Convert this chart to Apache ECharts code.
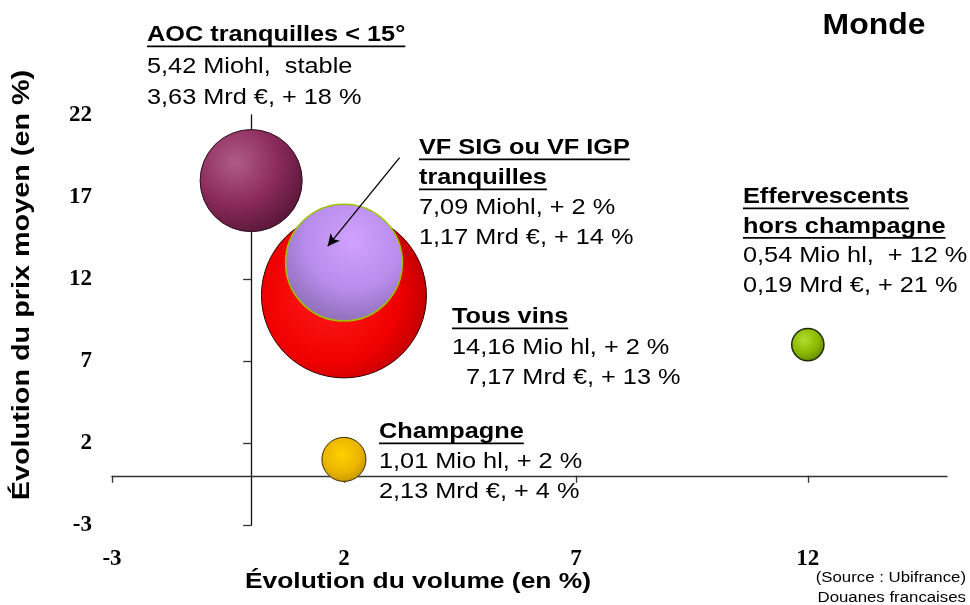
<!DOCTYPE html>
<html>
<head>
<meta charset="utf-8">
<script src="https://cdn.jsdelivr.net/npm/echarts@6/dist/echarts.min.js"></script>
<style>
  html, body { margin: 0; background: #fff; }
  #chart { width: 970px; height: 605px; }
</style>
</head>
<body>
<div id="chart"></div>
<script>
// categories and values
const categories = ['AOC tranquilles < 15°', 'Tous vins', 'VF SIG ou VF IGP tranquilles', 'Champagne', 'Effervescents hors champagne']
const volumeChange = [0, 2, 2, 2, 12]       // x, %
const priceChange = [18, 11, 13, 1, 8]      // y, %
const volumeMiohl = [5.42, 14.16, 7.09, 1.01, 0.54] // bubble area
const xTickLabels = [-3, 2, 7, 12]
const yTickLabels = [-3, 2, 7, 12, 17, 22]
const arrowFrom = [3.2, 19.4]
const arrowTo = [1.65, 14]

// annotation texts (title lines underlined)
const noteTitles = [
  ['AOC tranquilles < 15°'],
  ['Tous vins'],
  ['VF SIG ou VF IGP', 'tranquilles'],
  ['Champagne'],
  ['Effervescents', 'hors champagne']
]
const noteLines = [
  ['5,42 Miohl,  stable', '3,63 Mrd €, + 18 %'],
  ['14,16 Mio hl, + 2 %', '  7,17 Mrd €, + 13 %'],
  ['7,09 Miohl, + 2 %', '1,17 Mrd €, + 14 %'],
  ['1,01 Mio hl, + 2 %', '2,13 Mrd €, + 4 %'],
  ['0,54 Mio hl,  + 12 %', '0,19 Mrd €, + 21 %']
]

// layout / style
const notePos = [[147, 35, 31.5], [452, 317, 30.5], [419, 148, 30], [379, 432, 30], [743, 197, 29.5]]
const bubbleStyles = [
  { stops: ['#b05c88', '#8a2a5b', '#561636'], at: [0.35, 0.32], border: '#2a1020', bw: 1 },
  { stops: ['#ff1c1c', '#f00000', '#940000'], at: [0.42, 0.5], border: '#330000', bw: 1 },
  { stops: ['#d2a2ff', '#b78ceb', '#8a68b0'], at: [0.58, 0.32], border: '#9cc400', bw: 1.5 },
  { stops: ['#ffd200', '#eab400', '#a98300'], at: [0.45, 0.4], border: '#3a2c00', bw: 1 },
  { stops: ['#b2dc30', '#8ab800', '#587800'], at: [0.4, 0.35], border: '#1e2a00', bw: 1.5 }
]
const sizeScale = 43.85
const textScale = 1.15
const noteFont = 22
const sans = '"Liberation Sans", Arial, sans-serif'
const serif = '"Liberation Serif", "Times New Roman", serif'

const measureCtx = document.createElement('canvas').getContext('2d')
function textWidth(str, font) {
  measureCtx.font = font
  return measureCtx.measureText(str).width
}

function noteGroup(i) {
  const [x, y, lh] = notePos[i]
  const bold = 'bold ' + noteFont + 'px ' + sans
  const children = []
  let row = 0
  noteTitles[i].forEach(t => {
    children.push({
      type: 'text', x: 0, y: row * lh,
      style: { text: t, font: bold, fill: '#000', verticalAlign: 'middle' }
    })
    children.push({
      type: 'rect',
      shape: { x: 0, y: row * lh + 10.5, width: textWidth(t, bold), height: 1.8 },
      style: { fill: '#000' }
    })
    row++
  })
  noteLines[i].forEach(t => {
    children.push({
      type: 'text', x: 0, y: row * lh,
      style: { text: t, font: noteFont + 'px ' + sans, fill: '#000', verticalAlign: 'middle', whiteSpace: 'pre' }
    })
    row++
  })
  return { type: 'group', x: x, y: y, scaleX: textScale, children: children }
}

const bubbleData = categories.map((name, i) => {
  const s = bubbleStyles[i]
  return {
    name: name,
    value: [volumeChange[i], priceChange[i], volumeMiohl[i]],
    itemStyle: {
      color: new echarts.graphic.RadialGradient(s.at[0], s.at[1], 0.75, [
        { offset: 0, color: s.stops[0] },
        { offset: 0.55, color: s.stops[1] },
        { offset: 1, color: s.stops[2] }
      ]),
      borderColor: s.border,
      borderWidth: s.bw,
      opacity: 1
    }
  }
})

const chart = echarts.init(document.getElementById('chart'))
chart.setOption({
  animation: false,
  backgroundColor: '#fff',
  grid: { left: 112, right: 23, top: 115, bottom: 80, containLabel: false, outerBoundsMode: 'none' },
  xAxis: {
    type: 'value',
    min: -3,
    max: 15,
    splitLine: { show: false },
    axisLine: { onZero: true, lineStyle: { color: '#333', width: 1.3 } },
    axisTick: { show: true, customValues: xTickLabels, length: 7, lineStyle: { color: '#333', width: 1.3 } },
    axisLabel: {
      customValues: xTickLabels,
      margin: 23,
      color: '#000',
      fontFamily: serif,
      fontWeight: 'bold',
      fontSize: 23
    }
  },
  yAxis: {
    type: 'value',
    min: -3,
    max: 22,
    splitLine: { show: false },
    axisLine: { onZero: true, lineStyle: { color: '#111', width: 1.3 } },
    axisTick: { show: true, customValues: [-3, 2, 7, 12, 17], length: 8, lineStyle: { color: '#333', width: 1.3 } },
    axisLabel: {
      customValues: yTickLabels,
      margin: 20,
      color: '#000',
      fontFamily: serif,
      fontWeight: 'bold',
      fontSize: 23
    }
  },
  series: [
    {
      type: 'scatter',
      data: bubbleData,
      symbolSize: val => sizeScale * Math.sqrt(val[2]),
      silent: true,
      itemStyle: { opacity: 1 },
      markLine: {
        silent: true,
        symbol: ['none', 'arrow'],
        symbolSize: [9, 12],
        label: { show: false },
        lineStyle: { color: '#000', width: 1.3, type: 'solid', opacity: 1 },
        data: [[{ coord: arrowFrom }, { coord: arrowTo }]]
      }
    }
  ],
  graphic: [
    ...categories.map((c, i) => noteGroup(i)),
    {
      type: 'text', x: 874, y: 26, scaleX: 1.1,
      style: { text: 'Monde', font: 'bold 29px ' + sans, fill: '#000', align: 'center', verticalAlign: 'middle' }
    },
    {
      type: 'text', x: 418, y: 582, scaleX: 1.2,
      style: { text: 'Évolution du volume (en %)', font: 'bold 22px ' + sans, fill: '#000', align: 'center', verticalAlign: 'middle' }
    },
    {
      type: 'text', x: 22, y: 285, rotation: Math.PI / 2, scaleX: 1.2,
      style: { text: 'Évolution du prix moyen (en %)', font: 'bold 24px ' + sans, fill: '#000', align: 'center', verticalAlign: 'middle' }
    },
    {
      type: 'text', x: 966, y: 578, scaleX: 1.2,
      style: { text: '(Source : Ubifrance)', font: '14px ' + sans, fill: '#000', align: 'right', verticalAlign: 'middle' }
    },
    {
      type: 'text', x: 966, y: 598, scaleX: 1.2,
      style: { text: 'Douanes francaises', font: '14px ' + sans, fill: '#000', align: 'right', verticalAlign: 'middle' }
    }
  ]
})
</script>
</body>
</html>
